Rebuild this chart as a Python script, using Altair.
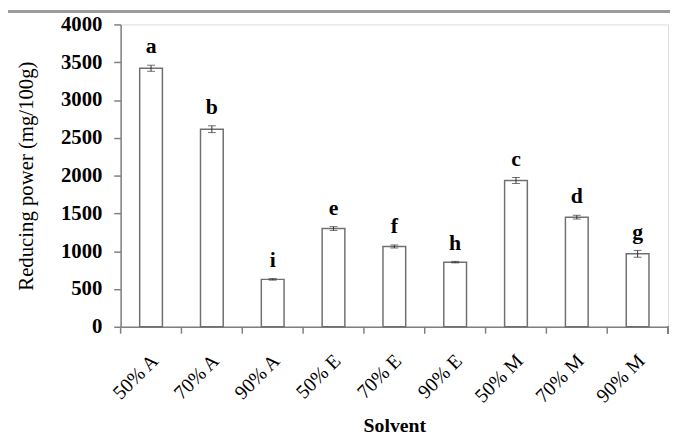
import altair as alt
import pandas as pd

categories = ["50% A", "70% A", "90% A", "50% E", "70% E", "90% E", "50% M", "70% M", "90% M"]
values = [3420, 2614, 627, 1300, 1062, 855, 1935, 1450, 965]
errors = [40, 45, 10, 25, 20, 10, 40, 25, 45]
letters = ["a", "b", "i", "e", "f", "h", "c", "d", "g"]
y_ticks = [0, 500, 1000, 1500, 2000, 2500, 3000, 3500, 4000]

df = pd.DataFrame({"cat": categories, "val": values, "err": errors, "lab": letters})
df["lo"] = df["val"] - df["err"]
df["hi"] = df["val"] + df["err"]

W, H = 554, 306
FONT = "Liberation Serif"
GRAY = "#808080"

xscale = alt.Scale(domain=categories, paddingInner=0, paddingOuter=0)
yscale = alt.Scale(domain=[0, 4000], nice=False)

xaxis = alt.Axis(title="Solvent", labelAngle=-45, labelFont=FONT, labelFontSize=20,
                 labelColor="black", ticks=False, domainColor=GRAY, domainWidth=1.5,
                 labelPadding=24, labelOffset=-3, labelOverlap=False,
                 titleFont=FONT, titleFontSize=20, titleFontWeight="bold",
                 titleColor="black", titlePadding=10)
yaxis = alt.Axis(title="Reducing power (mg/100g)", values=y_ticks, tickCount=9,
                 format="d", labelFont=FONT, labelFontSize=21, labelFontWeight="bold",
                 labelColor="black", grid=False, domainColor=GRAY, domainWidth=1.5,
                 tickColor=GRAY, tickSize=7, tickWidth=1.5, labelPadding=12,
                 labelOverlap=False,
                 titleFont=FONT, titleFontSize=21, titleFontWeight="normal",
                 titleColor="black", titlePadding=24)

X = alt.X("cat:N", scale=xscale, sort=categories, axis=xaxis)

base = alt.Chart(df)

bars = base.mark_bar(width=23, fill="white", stroke="#707070", strokeWidth=1.5).encode(
    x=X, y=alt.Y("val:Q", scale=yscale, axis=yaxis),
)

err_rule = base.mark_rule(color="#333", strokeWidth=1).encode(
    x=X, y=alt.Y("lo:Q", scale=yscale, axis=yaxis), y2="hi:Q",
)
cap_lo = base.mark_tick(color="#333", size=8, thickness=1).encode(
    x=X, y=alt.Y("lo:Q", scale=yscale, axis=yaxis),
)
cap_hi = base.mark_tick(color="#333", size=8, thickness=1).encode(
    x=X, y=alt.Y("hi:Q", scale=yscale, axis=yaxis),
)

text = base.mark_text(font=FONT, fontSize=22, fontWeight="bold", dy=-7, baseline="bottom", color="black").encode(
    x=X, y=alt.Y("hi:Q", scale=yscale, axis=yaxis), text="lab:N",
)

xticks = base.mark_rule(color=GRAY, strokeWidth=1.5).encode(
    x=alt.X("cat:N", scale=xscale, sort=categories, bandPosition=0, axis=xaxis),
    y=alt.value(H),
    y2=alt.value(H + 7),
)
end_tick = base.mark_rule(color=GRAY, strokeWidth=1.5).encode(
    x=alt.value(W), y=alt.value(H), y2=alt.value(H + 7),
)
top_line = base.mark_rule(color="#999999", strokeWidth=1.5).encode(
    x=alt.value(-114), x2=alt.value(W + 2), y=alt.value(-13),
)

chart = alt.layer(bars, err_rule, cap_lo, cap_hi, text, xticks, end_tick, top_line).properties(
    width=W, height=H,
    autosize=alt.AutoSizeParams(type="none"),
    padding={"left": 114, "top": 14, "right": 2, "bottom": 113},
).configure_view(stroke=None).configure(background="white")

chart.save("out.html", embed_options={"renderer": "svg", "actions": False})
